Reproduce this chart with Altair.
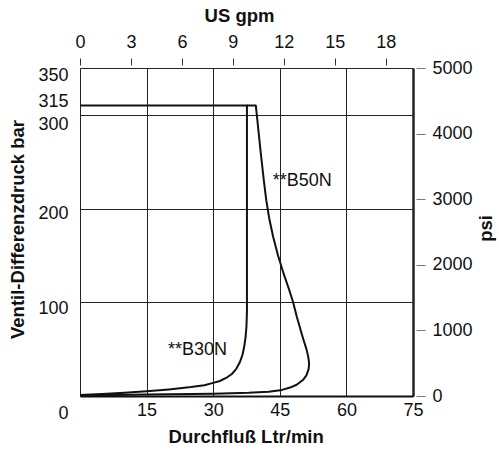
import altair as alt
import pandas as pd

# ---- data ----
b30_q = [0, 5, 10, 15, 20, 25, 28, 30, 31.5, 33, 34.2, 35.2, 36, 36.6, 37.0, 37.3, 37.5, 37.6, 37.6, 0]
b30_p = [1, 2.2, 3.4, 5, 7, 9.5, 11.5, 14, 16, 19.5, 23.5, 29, 36, 44, 53, 63, 75, 90, 310, 310]

b50_q = [0, 15, 30, 38, 42.5, 45.5, 47.3, 48.8, 50.2, 51.0, 51.5, 51.6, 51.4, 51.0, 50.4, 49.9, 48.8,
         48.0, 47.0, 45.9, 44.6, 43.5, 42.6, 41.95, 41.4, 40.7, 39.6, 37.6]
b50_p = [0.5, 1.5, 2.5, 3.5, 4.6, 6.5, 9, 12, 17, 22, 29, 35, 42, 50, 59, 67, 85,
         100, 115, 130, 150, 170, 190, 209, 230, 260, 310, 310]

label_text = ["**B30N", "**B50N"]
label_q = [19.8, 43.4]
label_p = [49.6, 229.5]

flow_ticks = [15, 30, 45, 60, 75]
bar_ticks = [0, 100, 200, 300, 315, 350]
gpm_ticks = [0, 3, 6, 9, 12, 15, 18]
psi_ticks = [0, 1000, 2000, 3000, 4000, 5000]

FONT = "Liberation Sans, Arial, sans-serif"
INK = "#111111"

rows = []
for i, (q, p) in enumerate(zip(b30_q, b30_p)):
    rows.append({"series": "B30N", "idx": i, "q": q, "p": p})
for i, (q, p) in enumerate(zip(b50_q, b50_p)):
    rows.append({"series": "B50N", "idx": i, "q": q, "p": p})
curves = pd.DataFrame(rows)
labels = pd.DataFrame({"text": label_text, "q": label_q, "p": label_p})

xs = alt.Scale(domain=[0, 75], nice=False, zero=False)
ys = alt.Scale(domain=[0, 350], nice=False, zero=False)

x_axis = alt.Axis(
    orient="bottom", values=flow_ticks, title="Durchfluß Ltr/min",
    grid=True, gridColor="#222222",
    gridWidth={"condition": {"test": "datum.value === 75", "value": 2.5}, "value": 1},
    ticks=False, domain=True, domainColor=INK, domainWidth=2,
    labelPadding=5, labelFlush=False, labelOverlap=False,
    titleX=165.7, titleY=40, titleBaseline="middle", titleAlign="center",
)
y_axis = alt.Axis(
    orient="left", values=bar_ticks, title="Ventil-Differenzdruck bar",
    grid=True, gridColor="#222222",
    gridOpacity={"condition": {"test": "datum.value === 100 || datum.value === 200 || datum.value === 300", "value": 1}, "value": 0},
    ticks=False, domain=False, labelPadding=12, labelFlush=False, labelOverlap=False,
    labelOffset={"condition": [
        {"test": "datum.value === 0", "value": 17},
        {"test": "datum.value === 350", "value": 7.5},
        {"test": "datum.value === 300", "value": 10},
        {"test": "datum.value === 200", "value": 5},
        {"test": "datum.value === 100", "value": 6.5},
    ], "value": 1},
    titleX=-62.5, titleY=161, titleAngle=270, titleBaseline="middle", titleAlign="center",
)

lines = alt.Chart(curves).mark_line(color=INK, strokeWidth=2, strokeJoin="round").encode(
    x=alt.X("q:Q", scale=xs, axis=x_axis),
    y=alt.Y("p:Q", scale=ys, axis=y_axis),
    detail="series:N",
    order="idx:Q",
)
texts = alt.Chart(labels).mark_text(font=FONT, fontSize=18, align="left", baseline="middle", color=INK).encode(
    x=alt.X("q:Q", scale=xs),
    y=alt.Y("p:Q", scale=ys),
    text="text:N",
)

top = alt.Chart(pd.DataFrame({"gpm": gpm_ticks})).mark_point(opacity=0).encode(
    x=alt.X("gpm:Q", scale=alt.Scale(domain=[0, 19.61], nice=False, zero=False),
            axis=alt.Axis(orient="top", values=gpm_ticks, title="US gpm", offset=3,
                          domain=False, grid=False, tickSize=7, tickColor="#333333",
                          labelPadding=7, labelFlush=False, labelOverlap=False,
                          titleX=159, titleY=-50, titleBaseline="middle", titleAlign="center"))
)
right = alt.Chart(pd.DataFrame({"psi": psi_ticks})).mark_point(opacity=0).encode(
    y=alt.Y("psi:Q", scale=alt.Scale(domain=[0, 5000], nice=False, zero=False),
            axis=alt.Axis(orient="right", values=psi_ticks, title="psi", offset=3, format="d",
                          domain=False, grid=False, tickSize=9, tickColor="#777777",
                          labelPadding=7, labelFlush=False, labelOverlap=False,
                          titleX=69, titleY=160, titleAngle=270,
                          titleBaseline="middle", titleAlign="center"))
)

chart = alt.layer(alt.layer(lines, texts), top, right).resolve_scale(
    x="independent", y="independent"
).properties(
    width=333, height=328,
    autosize=alt.AutoSizeParams(type="none"),
    padding={"left": 80, "top": 68, "right": 86, "bottom": 55},
    background="white",
).configure_view(
    stroke="#222222", strokeWidth=1
).configure_axis(
    labelFont=FONT, titleFont=FONT, labelFontSize=18, titleFontSize=18.5,
    labelColor=INK, titleColor=INK, titleFontWeight="bold",
)

chart.save("out.html", embed_options={"renderer": "svg", "actions": False})
